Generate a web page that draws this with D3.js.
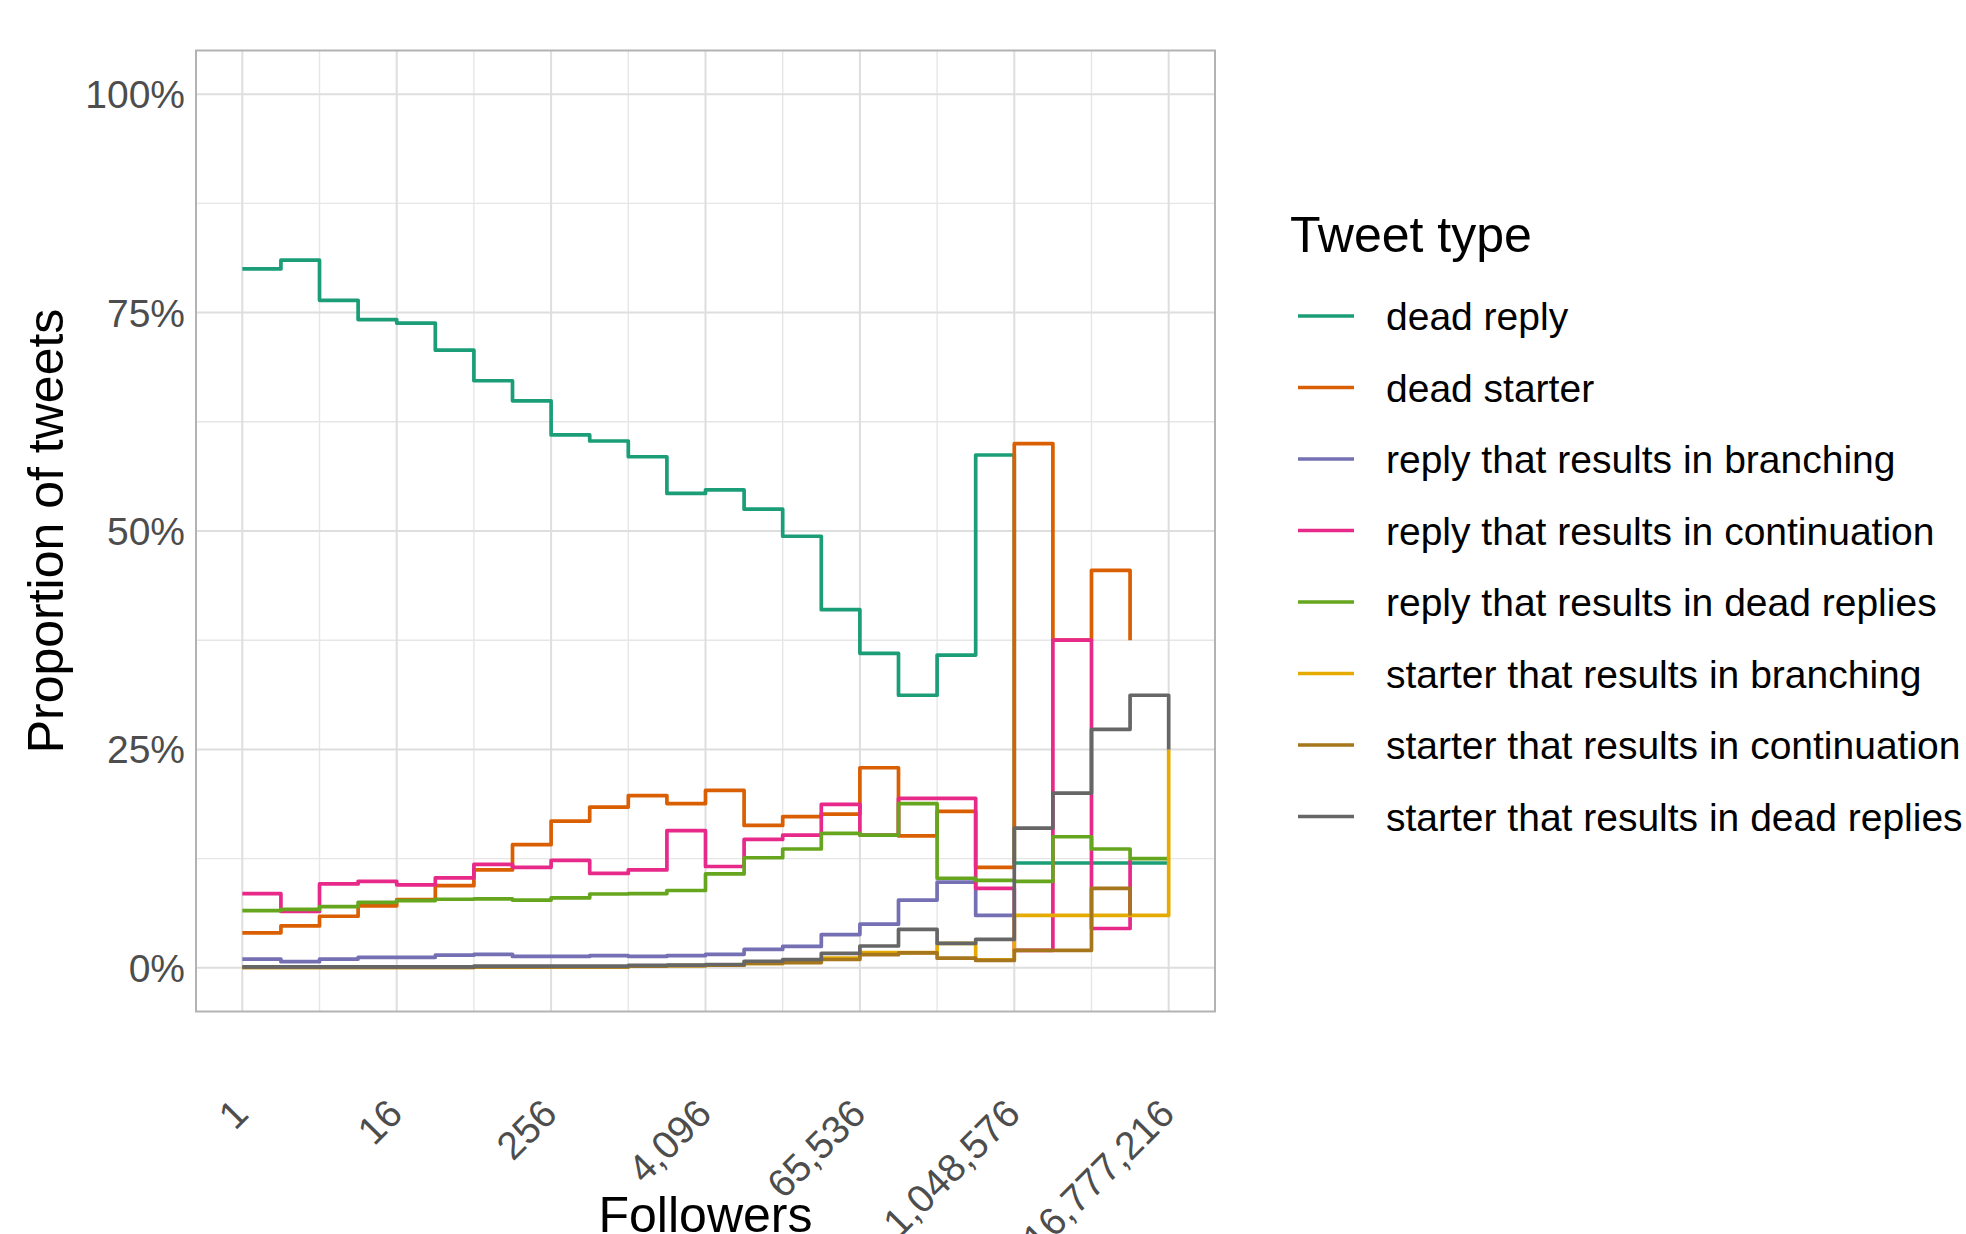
<!DOCTYPE html>
<html lang="en">
<head>
<meta charset="UTF-8">
<title>Tweet type by followers</title>
<script src="https://d3js.org/d3.v7.min.js"></script>
<style>
    body {
        margin: 0;
        background: #fff;
    }

    svg {
        display: block;
        font-family: "Liberation Sans", Arial, sans-serif;
    }
</style>
</head>
<body>
<svg width="1966" height="1234"></svg>

<script>
    // follower bins (powers of two), one point per bin
    const followers = [1, 2, 4, 8, 16, 32, 64, 128, 256, 512, 1024, 2048, 4096, 8192,
        16384, 32768, 65536, 131072, 262144, 524288, 1048576, 2097152, 4194304, 8388608, 16777216];
    const xTicks = [1, 16, 256, 4096, 65536, 1048576, 16777216];
    const xMinor = [4, 64, 1024, 16384, 262144, 4194304];
    const yTicks = [0, 25, 50, 75, 100];
    const yMinor = [12.5, 37.5, 62.5, 87.5];

    const tweetTypes = ["dead reply", "dead starter", "reply that results in branching",
        "reply that results in continuation", "reply that results in dead replies",
        "starter that results in branching", "starter that results in continuation",
        "starter that results in dead replies"];
    const colors = ["#1B9E77", "#D95F02", "#7570B3", "#E7298A", "#66A61E", "#E6AB02", "#A6761D", "#666666"];

    // proportion of tweets, in percent (null = no point)
    const deadReply = [80.0, 81.0, 76.4, 74.2, 73.8, 70.7, 67.2, 64.9, 61.0, 60.3, 58.5, 54.3, 54.7,
        52.5, 49.4, 41.0, 36.0, 31.2, 35.8, 58.7, 12.0, 12.0, 12.0, 12.0, 12.0];
    const deadStarter = [4.0, 4.8, 5.9, 7.1, 7.8, 9.4, 11.2, 14.1, 16.8, 18.4, 19.7, 18.8, 20.3,
        16.3, 17.3, 17.6, 22.9, 15.1, 17.9, 11.5, 60.0, 37.5, 45.5, 37.5, null];
    const replyBranching = [1.0, 0.7, 1.0, 1.2, 1.2, 1.45, 1.55, 1.3, 1.3, 1.4, 1.3, 1.4, 1.55,
        2.1, 2.45, 3.8, 5.0, 7.75, 9.8, 6.0, 6.0, null, null, null, null];
    const replyContinuation = [8.5, 6.45, 9.6, 9.9, 9.5, 10.3, 11.85, 11.5, 12.3, 10.8, 11.2, 15.7, 11.6,
        14.7, 15.2, 18.7, 15.2, 19.4, 19.4, 9.1, 2.0, 37.5, 4.5, 12.4, null];
    const replyDeadReplies = [6.55, 6.7, 7.0, 7.5, 7.7, 7.85, 7.9, 7.75, 8.0, 8.45, 8.5, 8.85, 10.75,
        12.6, 13.6, 15.4, 15.2, 18.8, 10.25, 10.0, 9.9, 15.0, 13.6, 12.5, 12.5];
    const starterBranching = [0.05, 0.05, 0.05, 0.05, 0.05, 0.05, 0.1, 0.1, 0.1, 0.1, 0.2, 0.25, 0.3,
        0.5, 0.7, 1.1, 1.75, 1.75, 2.8, 0.9, 6.0, 6.0, 6.0, 6.0, 25.0];
    const starterContinuation = [0.05, 0.05, 0.05, 0.05, 0.05, 0.05, 0.1, 0.1, 0.1, 0.1, 0.2, 0.25, 0.3,
        0.5, 0.6, 0.95, 1.5, 1.7, 1.1, 0.85, 2.0, 2.0, 9.1, 6.0, null];
    const starterDeadReplies = [0.1, 0.1, 0.1, 0.1, 0.1, 0.1, 0.2, 0.2, 0.2, 0.2, 0.27, 0.3, 0.38,
        0.75, 0.95, 1.65, 2.5, 4.4, 2.8, 3.25, 16.0, 20.0, 27.3, 31.2, 25.0];

    const seriesValues = [deadReply, deadStarter, replyBranching, replyContinuation,
        replyDeadReplies, starterBranching, starterContinuation, starterDeadReplies];

    const panel = { left: 196, right: 1215, top: 50.5, bottom: 1011.5 };

    const svg = d3.select("svg");

    const x = d3.scaleLog().base(2)
        .domain([Math.pow(2, -1.2), Math.pow(2, 25.2)])
        .range([panel.left, panel.right]);
    const y = d3.scaleLinear()
        .domain([-5, 105])
        .range([panel.bottom, panel.top]);

    // grid
    const grid = svg.append("g");
    grid.selectAll(".ymin").data(yMinor).enter().append("line")
        .attr("x1", panel.left).attr("x2", panel.right)
        .attr("y1", d => y(d)).attr("y2", d => y(d))
        .attr("stroke", "#e6e6e6").attr("stroke-width", 1.4);
    grid.selectAll(".xmin").data(xMinor).enter().append("line")
        .attr("x1", d => x(d)).attr("x2", d => x(d))
        .attr("y1", panel.top).attr("y2", panel.bottom)
        .attr("stroke", "#e6e6e6").attr("stroke-width", 1.4);
    grid.selectAll(".ymaj").data(yTicks).enter().append("line")
        .attr("x1", panel.left).attr("x2", panel.right)
        .attr("y1", d => y(d)).attr("y2", d => y(d))
        .attr("stroke", "#dedede").attr("stroke-width", 2);
    grid.selectAll(".xmaj").data(xTicks).enter().append("line")
        .attr("x1", d => x(d)).attr("x2", d => x(d))
        .attr("y1", panel.top).attr("y2", panel.bottom)
        .attr("stroke", "#dedede").attr("stroke-width", 2);

    // step lines
    const line = d3.line()
        .defined(d => d.v != null)
        .x(d => x(d.f))
        .y(d => y(d.v))
        .curve(d3.curveStepAfter);

    seriesValues.forEach((vals, i) => {
        const pts = followers.map((f, j) => ({ f: f, v: vals[j] }));
        svg.append("path")
            .datum(pts)
            .attr("fill", "none")
            .attr("stroke", colors[i])
            .attr("stroke-width", 3.7)
            .attr("stroke-linejoin", "round")
            .attr("d", line);
    });

    // panel border
    svg.append("rect")
        .attr("x", panel.left).attr("y", panel.top)
        .attr("width", panel.right - panel.left)
        .attr("height", panel.bottom - panel.top)
        .attr("fill", "none")
        .attr("stroke", "#b3b3b3")
        .attr("stroke-width", 2);

    // y tick labels
    svg.selectAll(".ytick").data(yTicks).enter().append("text")
        .attr("x", 185)
        .attr("y", d => y(d))
        .attr("dy", "0.36em")
        .attr("text-anchor", "end")
        .attr("font-size", 39)
        .attr("fill", "#4d4d4d")
        .text(d => d + "%");

    // x tick labels, rotated
    const fmt = d3.format(",");
    svg.selectAll(".xtick").data(xTicks).enter().append("text")
        .attr("transform", d => `translate(${x(d) + 8},1116) rotate(-45)`)
        .attr("text-anchor", "end")
        .attr("font-size", 39)
        .attr("fill", "#4d4d4d")
        .text(d => fmt(d));

    // axis titles
    svg.append("text")
        .attr("x", (panel.left + panel.right) / 2)
        .attr("y", 1232)
        .attr("text-anchor", "middle")
        .attr("font-size", 50)
        .attr("fill", "#000")
        .text("Followers");

    svg.append("text")
        .attr("transform", `translate(63,${(panel.top + panel.bottom) / 2}) rotate(-90)`)
        .attr("text-anchor", "middle")
        .attr("font-size", 50)
        .attr("fill", "#000")
        .text("Proportion of tweets");

    // legend
    const legend = svg.append("g");
    legend.append("text")
        .attr("x", 1290).attr("y", 252)
        .attr("font-size", 50)
        .attr("fill", "#000")
        .text("Tweet type");

    const rows = legend.selectAll(".row").data(tweetTypes).enter().append("g")
        .attr("transform", (d, i) => `translate(0,${316 + i * 71.5})`);
    rows.append("line")
        .attr("x1", 1298).attr("x2", 1354)
        .attr("y1", 0).attr("y2", 0)
        .attr("stroke", (d, i) => colors[i])
        .attr("stroke-width", 3.7);
    rows.append("text")
        .attr("x", 1386).attr("y", 0)
        .attr("dy", "0.36em")
        .attr("font-size", 39)
        .attr("fill", "#000")
        .text(d => d);
</script>
</body>
</html>
